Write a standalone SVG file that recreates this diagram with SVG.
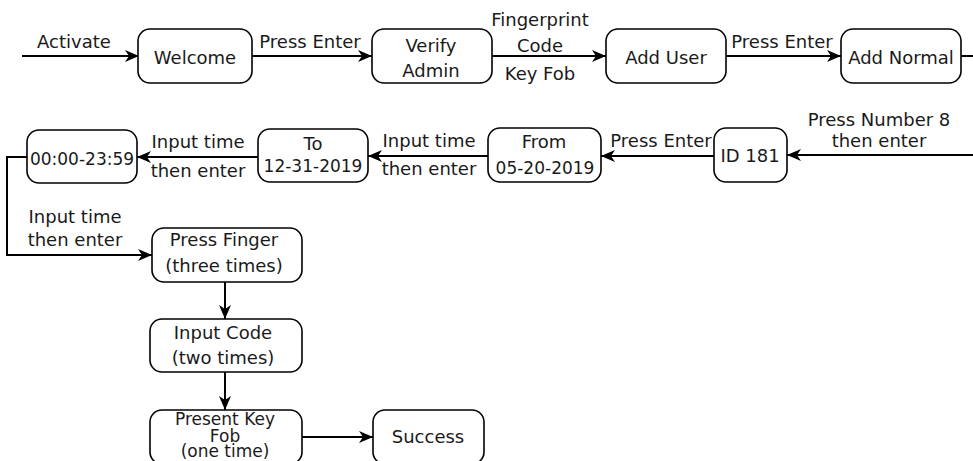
<svg xmlns="http://www.w3.org/2000/svg" width="973" height="461" viewBox="0 0 973 461">
<defs>
<marker id="arr" markerUnits="userSpaceOnUse" markerWidth="16" markerHeight="14" refX="15" refY="7" orient="auto">
<path d="M1,1 L15,7 L1,13 L5,7 Z" fill="#000"/>
</marker>
<style>
.box{fill:#fff;stroke:#000;stroke-width:1.6}
.t{font-family:"DejaVu Sans","Liberation Sans",sans-serif;font-size:18px;fill:#1a1a1a;text-anchor:middle}
.n{font-size:17px}
.c{fill:none;stroke:#000;stroke-width:2}
</style>
</defs>
<rect width="973" height="461" fill="#fff"/>
<g id="connectors">
<path class="c" d="M22,56 H139" marker-end="url(#arr)"/>
<path class="c" d="M252,56 H372" marker-end="url(#arr)"/>
<path class="c" d="M492,56 H606" marker-end="url(#arr)"/>
<path class="c" d="M726,56 H841" marker-end="url(#arr)"/>
<path class="c" d="M961,56 H975"/>
<path class="c" d="M975,155 H787" marker-end="url(#arr)"/>
<path class="c" d="M714,156 H601" marker-end="url(#arr)"/>
<path class="c" d="M488,156 H368" marker-end="url(#arr)"/>
<path class="c" d="M258,157 H137" marker-end="url(#arr)"/>
<path class="c" d="M27,157 H7 V255 H152" marker-end="url(#arr)"/>
<path class="c" d="M225,282 V319" marker-end="url(#arr)"/>
<path class="c" d="M225,372 V410" marker-end="url(#arr)"/>
<path class="c" d="M302,437 H373" marker-end="url(#arr)"/>
<text class="t" x="74" y="48">Activate</text>
<text class="t" x="310" y="48">Press Enter</text>
<text class="t" x="540" y="26">Fingerprint</text>
<text class="t" x="540" y="52">Code</text>
<text class="t" x="540" y="80">Key Fob</text>
<text class="t" x="782" y="48">Press Enter</text>
<text class="t" x="879" y="126">Press Number 8</text>
<text class="t" x="879" y="147">then enter</text>
<text class="t" x="661" y="147">Press Enter</text>
<text class="t" x="429" y="147">Input time</text>
<text class="t" x="429" y="175">then enter</text>
<text class="t" x="198" y="148">Input time</text>
<text class="t" x="198" y="177">then enter</text>
<text class="t" x="75" y="223">Input time</text>
<text class="t" x="75" y="246">then enter</text>
</g>
<g id="welcome"><rect class="box" x="138" y="29" width="114" height="54" rx="12"/><text class="t" x="195" y="64">Welcome</text></g>
<g id="verify-admin"><rect class="box" x="372" y="29" width="120" height="54" rx="12"/><text class="t" x="431" y="52">Verify</text><text class="t" x="431" y="77">Admin</text></g>
<g id="add-user"><rect class="box" x="606" y="29" width="120" height="54" rx="12"/><text class="t" x="666" y="64">Add User</text></g>
<g id="add-normal"><rect class="box" x="841" y="29" width="120" height="54" rx="12"/><text class="t" x="901" y="64">Add Normal</text></g>
<g id="id181"><rect class="box" x="714" y="128" width="73" height="54" rx="12"/><text class="t" x="750" y="162">ID 181</text></g>
<g id="from"><rect class="box" x="488" y="128" width="113" height="54" rx="12"/><text class="t" x="544" y="148">From</text><text class="t n" x="545" y="174">05-20-2019</text></g>
<g id="to"><rect class="box" x="258" y="129" width="110" height="53" rx="12"/><text class="t" x="313" y="150">To</text><text class="t n" x="313" y="172">12-31-2019</text></g>
<g id="time"><rect class="box" x="27" y="130" width="110" height="53" rx="12"/><text class="t n" x="82" y="165">00:00-23:59</text></g>
<g id="press-finger"><rect class="box" x="152" y="228" width="150" height="54" rx="12"/><text class="t" x="224" y="246">Press Finger</text><text class="t" x="224" y="272">(three times)</text></g>
<g id="input-code"><rect class="box" x="150" y="319" width="152" height="53" rx="12"/><text class="t" x="223" y="339">Input Code</text><text class="t" x="223" y="364">(two times)</text></g>
<g id="present-key-fob"><rect class="box" x="150" y="410" width="152" height="54" rx="12"/><text class="t n" x="225" y="425">Present Key</text><text class="t n" x="225" y="442">Fob</text><text class="t n" x="225" y="457">(one time)</text></g>
<g id="success"><rect class="box" x="373" y="410" width="111" height="54" rx="12"/><text class="t" x="428" y="443">Success</text></g>
</svg>
